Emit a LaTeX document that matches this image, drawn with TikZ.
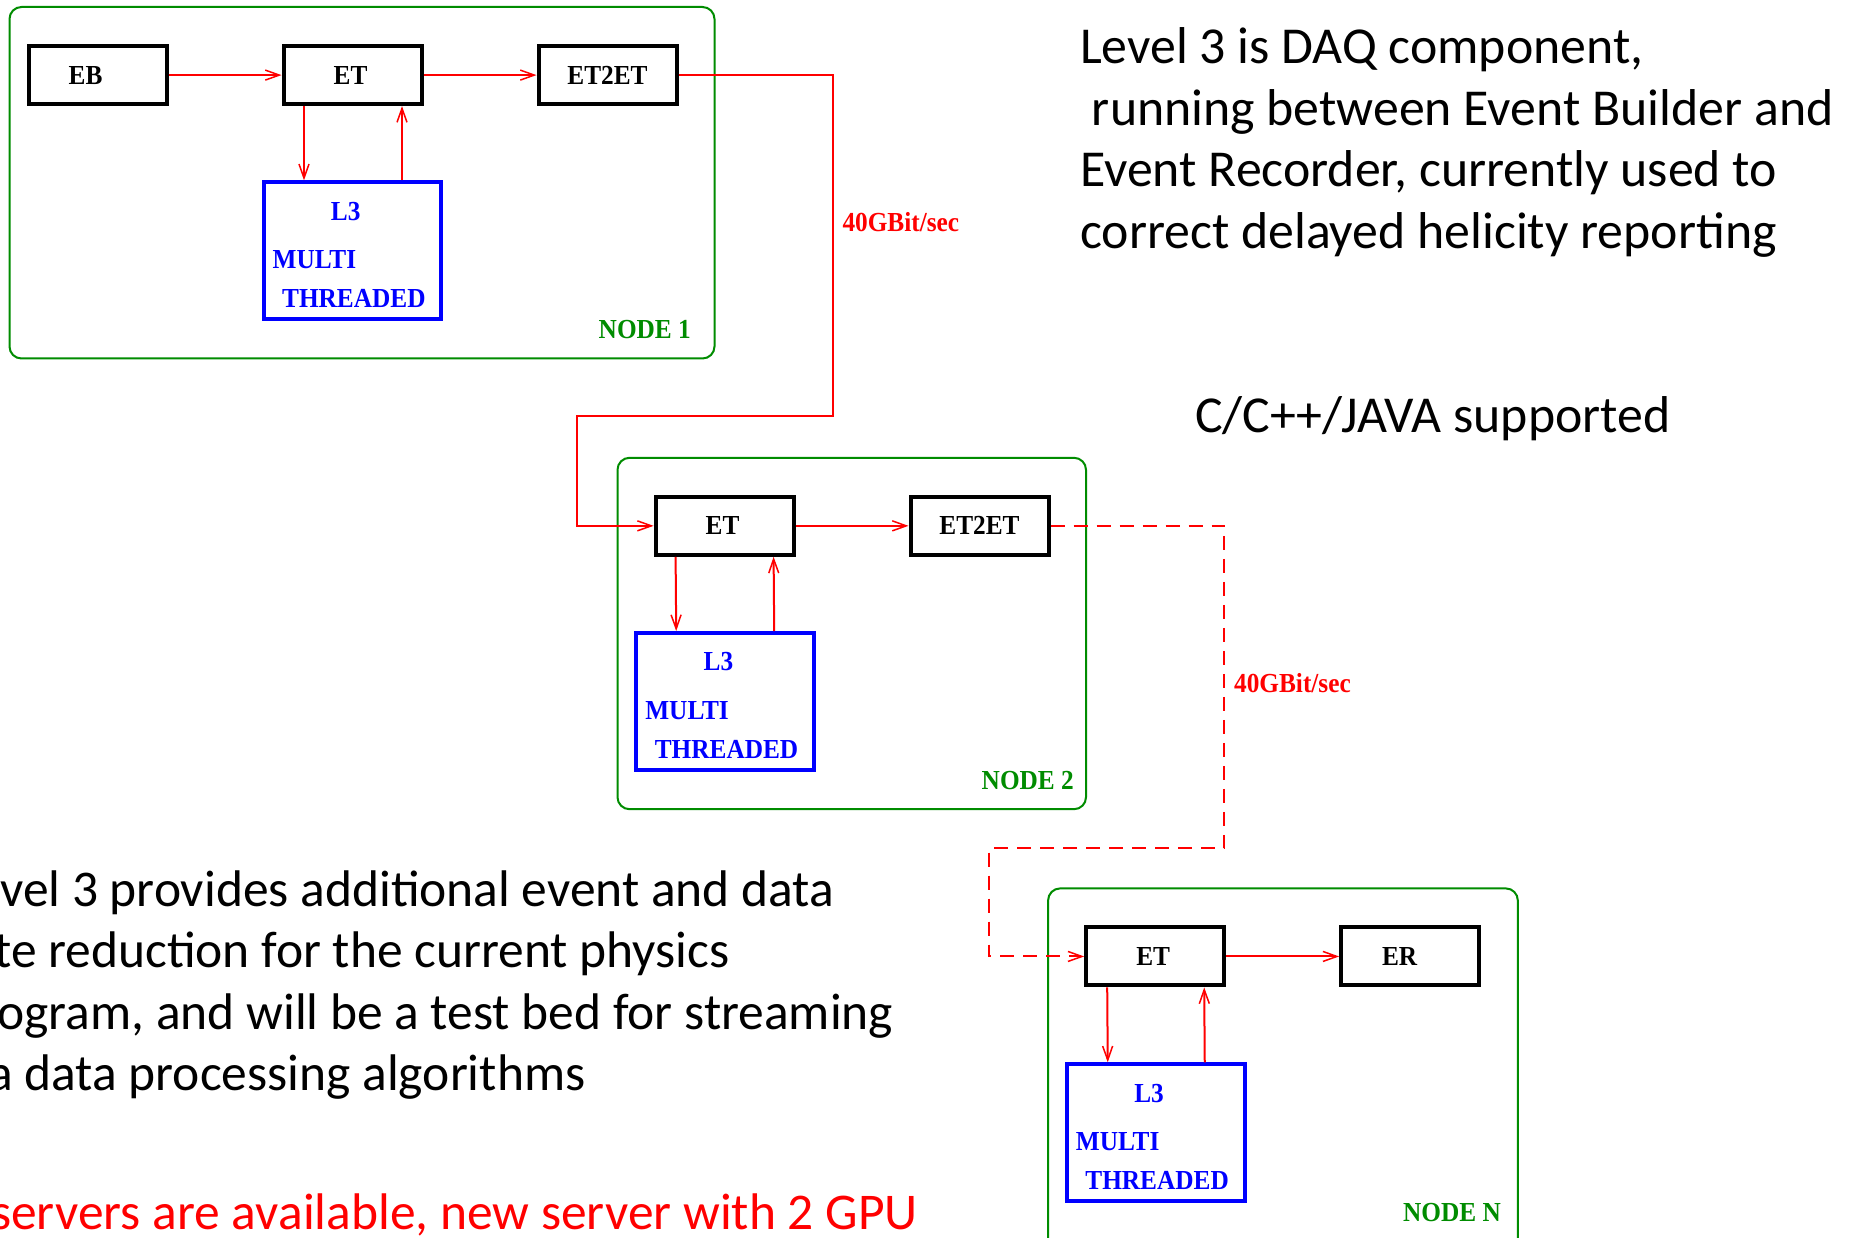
\documentclass[tikz,border=0pt]{standalone}
\usepackage{fontspec}
\setmainfont{Carlito}
\newfontfamily\figfont[FakeStretch=0.92]{Liberation Serif}
\usetikzlibrary{arrows.meta,calc}
\definecolor{figgreen}{RGB}{0,140,0}
\definecolor{figred}{RGB}{255,0,0}
\definecolor{figblue}{RGB}{0,0,255}
\begin{document}
\begin{tikzpicture}[x=1pt,y=-1pt,
  figtxt/.style={font=\figfont\bfseries\fontsize{27.5}{32}\selectfont},
  blk/.style={draw=black, line width=4pt, minimum width=138pt, minimum height=58pt, inner sep=0pt, figtxt},
  l3box/.style={draw=figblue, line width=4pt, minimum width=177.5pt, minimum height=137pt, inner sep=0pt},
  bluetxt/.style={text=figblue, inner sep=0pt, figtxt},
  grp/.style={draw=figgreen, line width=2pt, rounded corners=12pt},
  grplbl/.style={text=figgreen, anchor=east, inner sep=0pt, figtxt},
  flow/.style={draw=figred, line width=2pt, -{Straight Barb[length=14pt,width=10pt,line width=1.5pt]}},
  rate/.style={text=figred, anchor=base west, inner sep=0pt, figtxt},
  slide/.style={anchor=base west, inner sep=0pt, font=\fontsize{51.8}{61.5}\selectfont},
  slideb/.style={anchor=base west, inner sep=0pt, font=\fontsize{51.5}{61.5}\selectfont},
]
\useasboundingbox (0,0) rectangle (1855,1238);
\clip (0,0) rectangle (1855,1238);
\fill[white] (0,0) rectangle (1855,1238);

% ---------------- group boxes
\draw[grp] (9.5,7) rectangle (714.5,358.5);
\draw[grp] (617.5,457.8) rectangle (1086,809.2);
\draw[grp] (1048.1,888.4) rectangle (1517.8,1260);
\node[grplbl] (g1) at (691,330) {NODE 1};
\node[grplbl] (g2) at (1074,780.8) {NODE 2};
\node[grplbl] (gn) at (1501,1212.6) {NODE N};

% ---------------- NODE 1
\node[blk] (EB)   at (97.6,75.1)  {EB\rule{24pt}{0pt}};
\node[blk] (ETa)  at (352.5,75.1) {ET\rule{4pt}{0pt}};
\node[blk] (EEa)  at (607.5,75.1) {ET2ET};
\node[l3box] (La) at (352.5,250.8) {};
\node[bluetxt] (La1) at ($(La.north west)+(84,31)$) {L3};
\node[bluetxt, anchor=west] (La2) at ($(La.north west)+(10.7,79.3)$) {MULTI};
\node[bluetxt, anchor=west] (La3) at ($(La.north west)+(20.2,118.5)$) {THREADED};
\draw[flow] (EB.east) -- (ETa.west);
\draw[flow] (ETa.east) -- (EEa.west);
\draw[flow] ([xshift=-48.5pt]ETa.south) -- ([xshift=-48.5pt]La.north);
\draw[flow] ([xshift=49.5pt]La.north) -- ([xshift=49.5pt]ETa.south);

% ---------------- NODE 2
\node[blk] (ETb)  at (724.6,525.85) {ET\rule{4pt}{0pt}};
\node[blk] (EEb)  at (979.5,525.85) {ET2ET};
\node[l3box] (Lb) at (725.2,701.5) {};
\node[bluetxt] (Lb1) at ($(Lb.north west)+(84,31)$) {L3};
\node[bluetxt, anchor=west] (Lb2) at ($(Lb.north west)+(10.7,79.3)$) {MULTI};
\node[bluetxt, anchor=west] (Lb3) at ($(Lb.north west)+(20.2,118.5)$) {THREADED};
\draw[flow] (ETb.east) -- (EEb.west);
\draw[flow] ([xshift=-49pt]ETb.south) -- ([xshift=-49pt]Lb.north);
\draw[flow] ([xshift=49pt]Lb.north) -- ([xshift=49pt]ETb.south);

% ---------------- NODE N
\node[blk] (ETc)  at (1155.2,956.45) {ET\rule{4pt}{0pt}};
\node[blk] (ER)   at (1410.15,956.45) {ER\rule{21pt}{0pt}};
\node[l3box] (Lc) at (1155.75,1132.75) {};
\node[bluetxt] (Lc1) at ($(Lc.north west)+(84,31)$) {L3};
\node[bluetxt, anchor=west] (Lc2) at ($(Lc.north west)+(10.7,79.3)$) {MULTI};
\node[bluetxt, anchor=west] (Lc3) at ($(Lc.north west)+(20.2,118.5)$) {THREADED};
\draw[flow] (ETc.east) -- (ER.west);
\draw[flow] ([xshift=-48pt]ETc.south) -- ([xshift=-48pt]Lc.north);
\draw[flow] ([xshift=49pt]Lc.north) -- ([xshift=49pt]ETc.south);

% ---------------- links between nodes
\coordinate (r1) at (832.8,75.1);
\coordinate (r2) at (832.8,416.4);
\coordinate (r3) at (577.3,416.4);
\draw[flow] (EEa.east) -- (r1) -- (r2) -- (r3) |- (ETb.west);
\node[rate] (rate1) at (842.3,232) {40GBit/sec};

\coordinate (d1) at (1224.4,525.85);
\coordinate (d2) at (1224.4,848.2);
\coordinate (d3) at (989,848.2);
\draw[flow, dash pattern=on 14pt off 9pt] (EEb.east) -- (d1) -- (d2) -- (d3) |- (ETc.west);
\node[rate] (rate2) at (1233.9,692.4) {40GBit/sec};

% ---------------- slide texts
\node[slide] (t1) at (1080,64)    {Level 3 is DAQ component,};
\node[slide] (t2) at (1080,125.5) {\ running between Event Builder and};
\node[slide] (t3) at (1080,187)   {Event Recorder, currently used to};
\node[slide] (t4) at (1080,248.5) {correct delayed helicity reporting};
\node[slide] (t5) at (1195,432)   {C/C++/JAVA supported};

\node[slideb] (b1) at (-47,906)    {Level 3 provides additional event and data};
\node[slideb] (b2) at (-47,967.5)  {rate reduction for the current physics};
\node[slideb] (b3) at (-47,1029)   {program, and will be a test bed for streaming};
\node[slideb] (b4) at (-47,1090.5) {via data processing algorithms};
\node[slideb, text=figred] (b5) at (-9,1229.5) {servers are available, new server with 2 GPU};
\end{tikzpicture}
\end{document}
